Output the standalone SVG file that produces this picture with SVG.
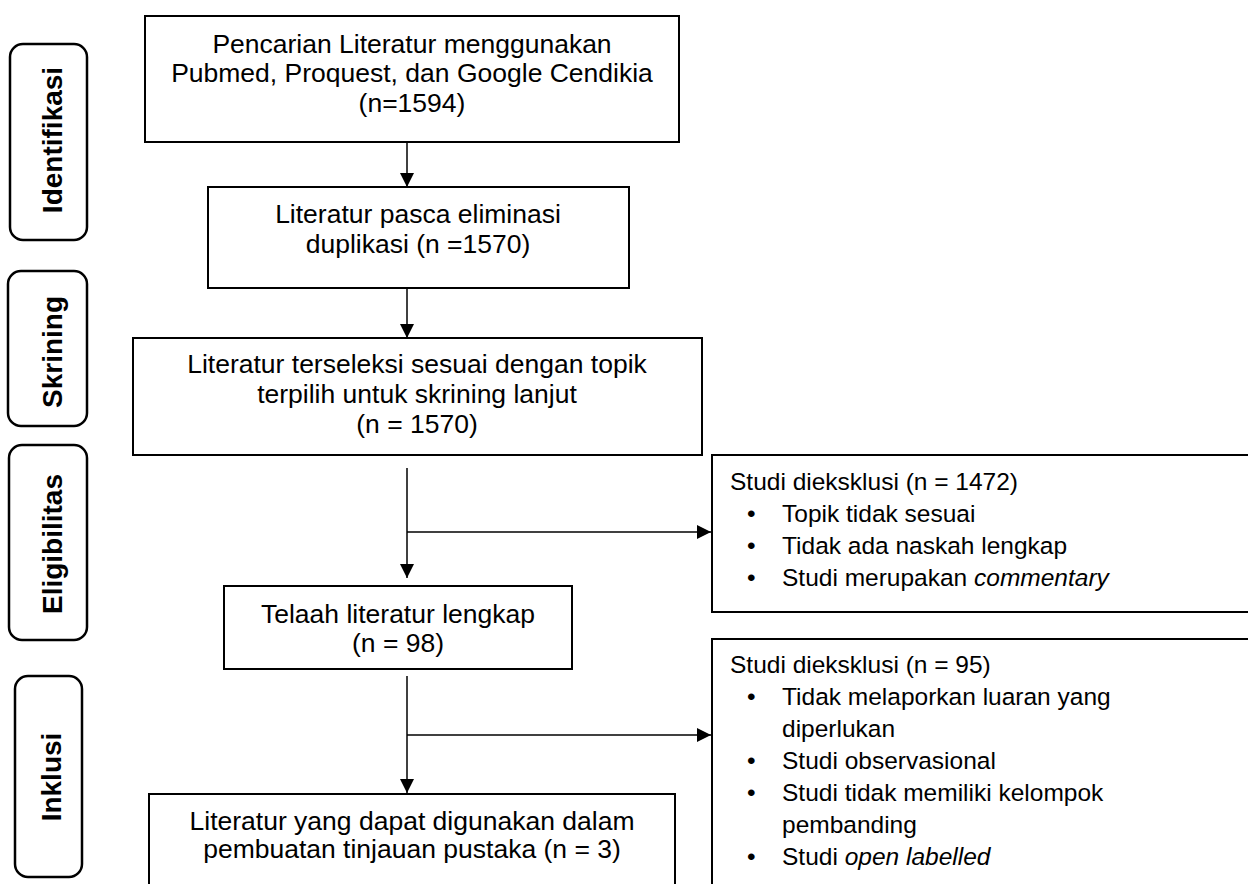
<svg xmlns="http://www.w3.org/2000/svg" width="1248" height="884" viewBox="0 0 1248 884">
<style>
.box{fill:#fff;stroke:#000;stroke-width:2}
.stage{fill:#fff;stroke:#000;stroke-width:2.5}
.t{font-family:"Liberation Sans",Arial,sans-serif;font-size:26.5px;fill:#000;text-anchor:middle}
.e{font-family:"Liberation Sans",Arial,sans-serif;font-size:24.5px;fill:#000}
.s{font-family:"Liberation Sans",Arial,sans-serif;font-size:28px;font-weight:bold;fill:#000;text-anchor:middle}
.c{fill:none;stroke:#000;stroke-width:1.5}
</style>
<defs>
<marker id="ah" markerWidth="14" markerHeight="14" refX="14" refY="7" orient="auto" markerUnits="userSpaceOnUse">
<path d="M0,0 L14,7 L0,14 Z" fill="#000"/>
</marker>
</defs>
<g id="stage-identifikasi">
<rect class="stage" x="10" y="44" width="77" height="196" rx="13"/>
<text class="s" transform="translate(62,140) rotate(-90)">Identifikasi</text>
</g>
<g id="stage-skrining">
<rect class="stage" x="8" y="271" width="79" height="155" rx="13"/>
<text class="s" transform="translate(62,352) rotate(-90)">Skrining</text>
</g>
<g id="stage-eligibilitas">
<rect class="stage" x="9" y="445" width="78" height="195" rx="13"/>
<text class="s" transform="translate(62,544) rotate(-90)">Eligibilitas</text>
</g>
<g id="stage-inklusi">
<rect class="stage" x="15" y="676" width="67" height="201" rx="13"/>
<text class="s" transform="translate(61,777) rotate(-90)">Inklusi</text>
</g>
<g id="box-pencarian">
<rect class="box" x="145" y="16" width="534" height="126"/>
<text class="t" x="412" y="53">Pencarian Literatur menggunakan</text>
<text class="t" x="412" y="82">Pubmed, Proquest, dan Google Cendikia</text>
<text class="t" x="412" y="112">(n=1594)</text>
</g>
<g id="box-duplikasi">
<rect class="box" x="208" y="187" width="421" height="101"/>
<text class="t" x="418" y="223">Literatur pasca eliminasi</text>
<text class="t" x="418" y="253">duplikasi (n =1570)</text>
</g>
<g id="box-terseleksi">
<rect class="box" x="133" y="338" width="569" height="117"/>
<text class="t" x="417" y="373">Literatur terseleksi sesuai dengan topik</text>
<text class="t" x="417" y="403">terpilih untuk skrining lanjut</text>
<text class="t" x="417" y="433">(n = 1570)</text>
</g>
<g id="box-eksklusi-1">
<rect class="box" x="712" y="455" width="540" height="157"/>
<text class="e" x="730" y="490">Studi dieksklusi (n = 1472)</text>
<text class="e" x="747" y="522">•</text><text class="e" x="782" y="522">Topik tidak sesuai</text>
<text class="e" x="747" y="554">•</text><text class="e" x="782" y="554">Tidak ada naskah lengkap</text>
<text class="e" x="747" y="586">•</text><text class="e" x="782" y="586">Studi merupakan <tspan font-style="italic">commentary</tspan></text>
</g>
<g id="box-telaah">
<rect class="box" x="224" y="586" width="348" height="83"/>
<text class="t" x="398" y="623">Telaah literatur lengkap</text>
<text class="t" x="398" y="652">(n = 98)</text>
</g>
<g id="box-eksklusi-2">
<rect class="box" x="712" y="639" width="540" height="260"/>
<text class="e" x="730" y="673">Studi dieksklusi (n = 95)</text>
<text class="e" x="747" y="705">•</text><text class="e" x="782" y="705">Tidak melaporkan luaran yang</text>
<text class="e" x="782" y="737">diperlukan</text>
<text class="e" x="747" y="769">•</text><text class="e" x="782" y="769">Studi observasional</text>
<text class="e" x="747" y="801">•</text><text class="e" x="782" y="801">Studi tidak memiliki kelompok</text>
<text class="e" x="782" y="833">pembanding</text>
<text class="e" x="747" y="865">•</text><text class="e" x="782" y="865">Studi <tspan font-style="italic">open labelled</tspan></text>
</g>
<g id="box-final">
<rect class="box" x="149" y="794" width="526" height="110"/>
<text class="t" x="412" y="830">Literatur yang dapat digunakan dalam</text>
<text class="t" x="412" y="858">pembuatan tinjauan pustaka (n = 3)</text>
</g>
<g id="connectors">
<line class="c" x1="407" y1="142" x2="407" y2="187" marker-end="url(#ah)"/>
<line class="c" x1="407" y1="288" x2="407" y2="338" marker-end="url(#ah)"/>
<line class="c" x1="407" y1="468" x2="407" y2="578" marker-end="url(#ah)"/>
<line class="c" x1="407" y1="532" x2="711" y2="532" marker-end="url(#ah)"/>
<line class="c" x1="407" y1="676" x2="407" y2="793" marker-end="url(#ah)"/>
<line class="c" x1="407" y1="735" x2="711" y2="735" marker-end="url(#ah)"/>
</g>
</svg>
